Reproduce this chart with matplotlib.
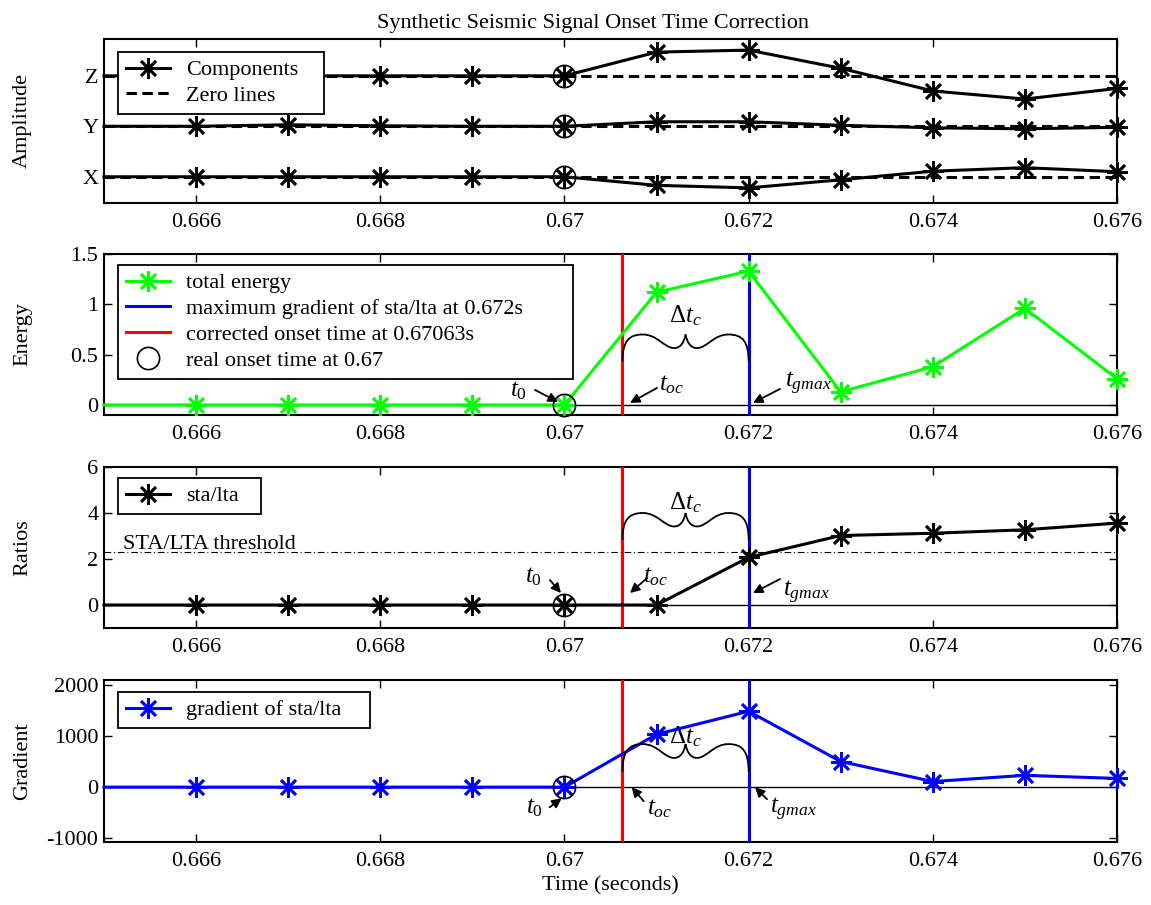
import numpy as np
import matplotlib
matplotlib.use("Agg")
import matplotlib.pyplot as plt
from matplotlib.path import Path
from matplotlib.patches import PathPatch
from matplotlib.lines import Line2D

plt.rcParams["font.family"] = ["Liberation Serif", "DejaVu Serif"]
plt.rcParams["mathtext.fontset"] = "custom"
plt.rcParams["mathtext.rm"] = "Liberation Serif"
plt.rcParams["mathtext.it"] = "Liberation Serif:italic"
plt.rcParams["mathtext.bf"] = "Liberation Serif:bold"
plt.rcParams["axes.unicode_minus"] = False

# ---- data -------------------------------------------------------------
time = [0.665, 0.666, 0.667, 0.668, 0.669, 0.670,
        0.671, 0.672, 0.673, 0.674, 0.675, 0.676]

# three components, shown stacked around offsets X=0, Y=1, Z=2
comp_x = [0, 0, 0, 0, 0, 0, -0.17, -0.22, -0.06, 0.11, 0.18, 0.10]
comp_y = [0, 0, 0.03, 0.01, 0, 0, 0.09, 0.09, 0.02, -0.03, -0.05, -0.02]
comp_z = [0, 0, 0, 0, 0, 0, 0.47, 0.51, 0.15, -0.30, -0.46, -0.25]
comp_names = ["X", "Y", "Z"]
comp_offsets = [0, 1, 2]

energy = [0, 0, 0, 0, 0, 0, 1.12, 1.33, 0.13, 0.38, 0.96, 0.26]
sta_lta = [0, 0, 0, 0, 0, 0, 0, 2.07, 3.02, 3.12, 3.27, 3.56]
gradient = [0, 0, 0, 0, 0, 0, 1030, 1480, 500, 110, 230, 170]

real_onset = 0.670
corrected_onset = 0.67063
gmax_time = 0.672
threshold = 2.3

xticks = [0.666, 0.668, 0.670, 0.672, 0.674, 0.676]
xtick_labels = ["0.666", "0.668", "0.67", "0.672", "0.674", "0.676"]

# ---- styles -----------------------------------------------------------
STAR = (8, 2, 0)
GREEN = (0, 1, 0)
BLUE = (0, 0, 1)
RED = (1, 0, 0)
FS = 16
ANN_FS = 18

fig = plt.figure(figsize=(11.51, 9.05), dpi=100)
L, W = 104 / 1151, 1013 / 1151
H = 905
rects = [(39, 203), (254, 415), (467, 628), (680, 842)]
axes = [fig.add_axes([L, 1 - b / H, W, (b - t) / H]) for t, b in rects]

idx = list(range(1, len(time)))
onset_i = time.index(real_onset)


def style_axis(ax):
    ax.set_xlim(0.665, 0.676)
    ax.set_xticks(xticks)
    ax.set_xticklabels(xtick_labels)
    ax.tick_params(direction="in", top=True, right=True, length=6,
                   width=1, labelsize=FS, pad=7)
    ax.tick_params(axis="y", pad=4)
    for s in ax.spines.values():
        s.set_linewidth(1.5)


def star_line(ax, y, color, label=None):
    ax.plot(time, y, color=color, lw=2.2, marker=STAR, ms=15, mew=1.9,
            markevery=idx, clip_on=False, zorder=4, label=label)


def onset_circle(ax, y):
    ax.plot([real_onset], [y], "o", mfc="none", mec="k", ms=16, mew=1.2,
            clip_on=False, zorder=5)


def brace(ax, x0, x1, y0, y1):
    half = [(0, 0), (0, 0.75), (0.05, 1.0), (0.16, 1.0),
            (0.28, 1.0), (0.33, 0.5), (0.41, 0.5),
            (0.46, 0.5), (0.49, 0.72), (0.5, 1.0)]
    other = [(1 - u, v) for u, v in reversed(half[:-1])]
    pts = half + other
    verts = [(x0 + u * (x1 - x0), y0 + v * (y1 - y0)) for u, v in pts]
    codes = [Path.MOVETO] + [Path.CURVE4] * (len(verts) - 1)
    ax.add_patch(PathPatch(Path(verts, codes), fill=False, lw=1.3,
                           ec="k", zorder=6))


def pointer(ax, xy, tail, text, text_off, ha):
    ax.annotate("", xy=xy, xycoords="data", xytext=tail,
                textcoords="offset pixels",
                arrowprops=dict(arrowstyle="-|>", color="k", lw=1.3,
                                shrinkA=0, shrinkB=0, mutation_scale=14),
                zorder=7)
    ax.annotate(text, xy=xy, xycoords="data", xytext=text_off,
                textcoords="offset pixels", ha=ha, va="center",
                fontsize=ANN_FS, zorder=11)


def legend(ax, handles, labels, top, width):
    lg = ax.legend(handles, labels, loc="upper left",
                   bbox_to_anchor=(0.0138, 0, width, top), mode="expand",
                   borderaxespad=0, fontsize=FS, handlelength=2.0,
                   handletextpad=0.7, labelspacing=0.24, borderpad=0.35,
                   fancybox=False, framealpha=1, edgecolor="k")
    lg.get_frame().set_linewidth(1.3)
    lg.set_zorder(10)


# ---- panel 1: components ---------------------------------------------
ax = axes[0]
style_axis(ax)
for comp, off in zip([comp_x, comp_y, comp_z], comp_offsets):
    ax.axhline(off, color="k", lw=2.2, ls=(0, (3.4, 1.8)), zorder=3)
    star_line(ax, [off + v for v in comp], "k")
    onset_circle(ax, off + comp[onset_i])
ax.set_ylim(-0.52, 2.73)
ax.set_yticks(comp_offsets)
ax.set_yticklabels(comp_names)
ax.set_ylabel("Amplitude", fontsize=FS)
ax.set_title("Synthetic Seismic Signal Onset Time Correction",
             fontsize=FS, pad=8, x=0.483)
legend(ax,
       [Line2D([], [], color="k", lw=2.2, marker=STAR, ms=15, mew=1.9),
        Line2D([], [], color="k", lw=2.2, ls=(0, (3.4, 1.8)))],
       ["Components", "Zero lines"], 0.921, 0.2034)

# ---- panel 2: energy ---------------------------------------------------
ax = axes[1]
style_axis(ax)
ax.axhline(0, color="k", lw=1, zorder=2)
star_line(ax, energy, GREEN)
ax.axvline(corrected_onset, color=RED, lw=2.2, zorder=3)
ax.axvline(gmax_time, color=BLUE, lw=2.2, zorder=3)
onset_circle(ax, energy[onset_i])
ax.set_ylim(-0.1, 1.5)
ax.set_yticks([0, 0.5, 1, 1.5])
ax.set_yticklabels(["0", "0.5", "1", "1.5"])
ax.set_ylabel("Energy", fontsize=FS)
legend(ax,
       [Line2D([], [], color=GREEN, lw=2.2, marker=STAR, ms=15, mew=1.9),
        Line2D([], [], color=BLUE, lw=2.2),
        Line2D([], [], color=RED, lw=2.2),
        Line2D([], [], ls="none", marker="o", mfc="none", mec="k",
               ms=16, mew=1.2)],
       ["total energy",
        "maximum gradient of sta/lta at %gs" % gmax_time,
        "corrected onset time at %gs" % corrected_onset,
        "real onset time at %g" % real_onset], 0.932, 0.449)
brace(ax, corrected_onset, gmax_time, 0.43, 0.70)
ax.text((corrected_onset + gmax_time) / 2, 0.89, r"$\Delta t_c$",
        ha="center", va="center", fontsize=ANN_FS)
pointer(ax, (0.66993, 0.03), (-23, 12), r"$t_\mathrm{0}$", (-31, 11), "right")
pointer(ax, (0.670712, 0.02), (27, 15), r"$t_{oc}$", (29, 18), "left")
pointer(ax, (0.672047, 0.02), (27, 14), r"$t_{gmax}$", (32, 19), "left")

# ---- panel 3: sta/lta ratios -------------------------------------------
ax = axes[2]
style_axis(ax)
ax.axhline(0, color="k", lw=1, zorder=2)
ax.axhline(threshold, color="k", lw=0.8, ls=(0, (6, 2.5, 1, 2.5)), zorder=2)
ax.annotate("STA/LTA threshold", xy=(0.019, threshold),
            xycoords=("axes fraction", "data"), xytext=(0, 3),
            textcoords="offset pixels", ha="left", va="baseline",
            fontsize=FS)
star_line(ax, sta_lta, "k")
ax.axvline(corrected_onset, color=RED, lw=2.2, zorder=3)
ax.axvline(gmax_time, color=BLUE, lw=2.2, zorder=3)
onset_circle(ax, sta_lta[onset_i])
ax.set_ylim(-1, 6)
ax.set_yticks([0, 2, 4, 6])
ax.set_ylabel("Ratios", fontsize=FS)
legend(ax, [Line2D([], [], color="k", lw=2.2, marker=STAR, ms=15, mew=1.9)],
       ["sta/lta"], 0.932, 0.141)
brace(ax, corrected_onset, gmax_time, 2.83, 4.0)
ax.text((corrected_onset + gmax_time) / 2, 4.43, r"$\Delta t_c$",
        ha="center", va="center", fontsize=ANN_FS)
pointer(ax, (0.669962, 0.52), (-11, 13), r"$t_\mathrm{0}$", (-19, 16), "right")
pointer(ax, (0.670712, 0.52), (17, 15), r"$t_{oc}$", (13, 16), "left")
pointer(ax, (0.672047, 0.52), (27, 14), r"$t_{gmax}$", (30, 1), "left")

# ---- panel 4: gradient -------------------------------------------------
ax = axes[3]
style_axis(ax)
ax.axhline(0, color="k", lw=1, zorder=2)
star_line(ax, gradient, BLUE)
ax.axvline(corrected_onset, color=RED, lw=2.2, zorder=3)
ax.axvline(gmax_time, color=BLUE, lw=2.2, zorder=3)
onset_circle(ax, gradient[onset_i])
ax.set_ylim(-1070, 2090)
ax.set_yticks([-1000, 0, 1000, 2000])
ax.set_ylabel("Gradient", fontsize=FS)
ax.set_xlabel("Time (seconds)", fontsize=FS, labelpad=4)
legend(ax, [Line2D([], [], color=BLUE, lw=2.2, marker=STAR, ms=15, mew=1.9)],
       ["gradient of sta/lta"], 0.926, 0.249)
brace(ax, corrected_onset, gmax_time, 300, 840)
ax.text((corrected_onset + gmax_time) / 2, 983, r"$\Delta t_c$",
        ha="center", va="center", fontsize=ANN_FS)
pointer(ax, (0.669969, -218), (-12, -9), r"$t_\mathrm{0}$", (-19, -9), "right")
pointer(ax, (0.67073, 0), (12, -14), r"$t_{oc}$", (15, -22), "left")
pointer(ax, (0.672069, 0), (12, -12), r"$t_{gmax}$", (15, -22), "left")

for ax in axes:
    ax.yaxis.set_label_coords(-0.071, 0.5)

fig.savefig("out.png", dpi=100)
